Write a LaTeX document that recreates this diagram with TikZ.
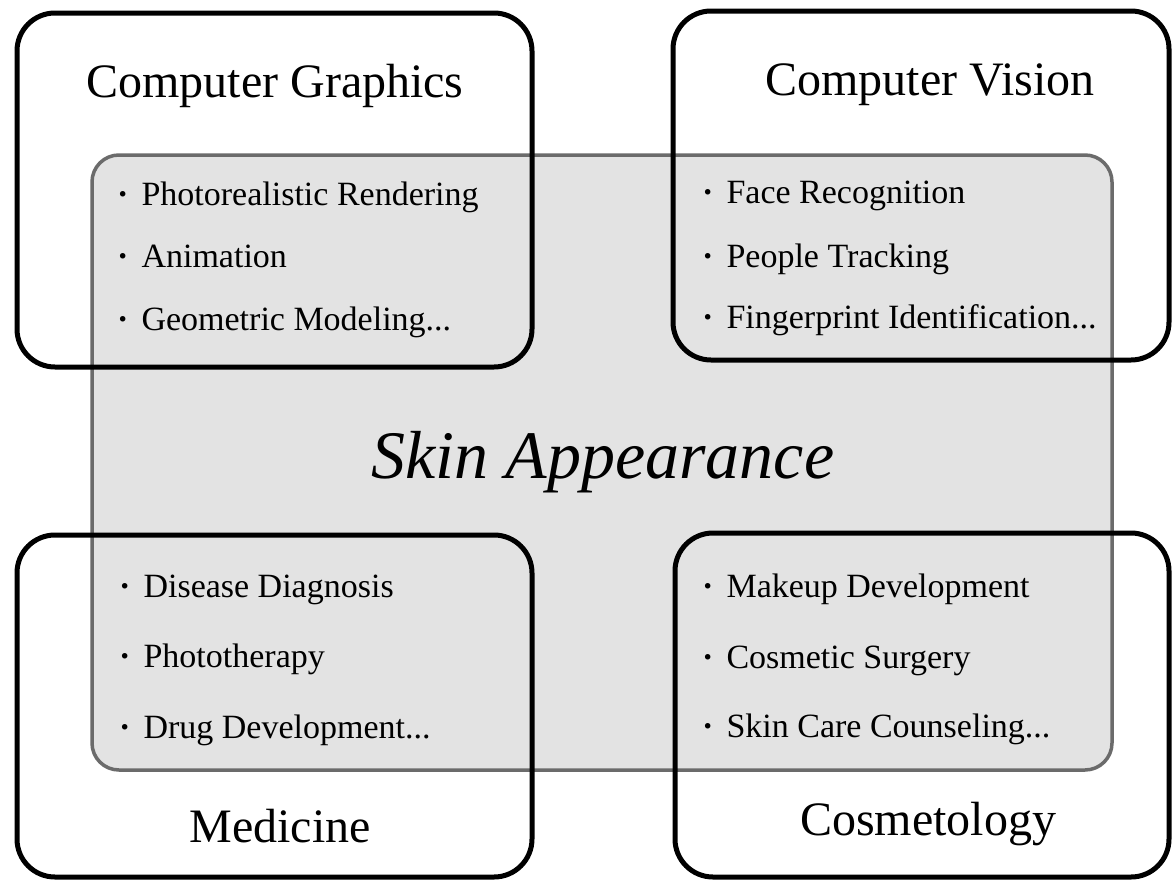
\documentclass[tikz,border=0pt]{standalone}
\usepackage{fontspec}
\setmainfont{Liberation Serif}
\newcommand{\itm}[1]{{\bfseries\textperiodcentered}\hspace{13pt}#1}
\begin{document}
\begin{tikzpicture}[x=1pt,y=-1pt,
  field/.style={draw=black,line width=5pt,rounded corners=38pt},
  core/.style={draw=black!58,fill=black!11,line width=3.5pt,rounded corners=27pt},
  head/.style={inner sep=0pt,anchor=base,font=\fontsize{48}{56}\selectfont},
  item/.style={inner sep=0pt,anchor=base west,font=\fontsize{34}{40}\selectfont},
  title/.style={inner sep=0pt,anchor=base,font=\fontsize{68}{80}\selectfont\itshape}]
\useasboundingbox (0,0) rectangle (1173,881);
\fill[white] (0,0) rectangle (1173,881);
% central grey region
\draw[core] (92,155) rectangle (1112,770);
% four field boxes
\draw[field] (17,13) rectangle (532,367);
\draw[field] (673,11) rectangle (1169,360);
\draw[field] (17,535) rectangle (532,877);
\draw[field] (675,533) rectangle (1169,877);
% headings
\node[head] (cg) at (275,97) {Computer Graphics};
\node[head] (cv) at (930,95) {Computer Vision};
\node[head] (med) at (280,842) {Medicine};
\node[head] (cos) at (928,835) {Cosmetology};
% centre title
\node[title] (skin) at (603,478) {Skin Appearance};
% items top-left
\node[item] (cg1) at (117,205) {\itm{Photorealistic Rendering}};
\node[item] (cg2) at (117,267) {\itm{Animation}};
\node[item] (cg3) at (117,330) {\itm{Geometric Modeling...}};
% items top-right
\node[item] (cv1) at (702,203) {\itm{Face Recognition}};
\node[item] (cv2) at (702,267) {\itm{People Tracking}};
\node[item] (cv3) at (702,328) {\itm{Fingerprint Identification...}};
% items bottom-left
\node[item] (md1) at (119,597) {\itm{Disease Diagnosis}};
\node[item] (md2) at (119,667) {\itm{Phototherapy}};
\node[item] (md3) at (119,738) {\itm{Drug Development...}};
% items bottom-right
\node[item] (cs1) at (702,597) {\itm{Makeup Development}};
\node[item] (cs2) at (702,668) {\itm{Cosmetic Surgery}};
\node[item] (cs3) at (702,737) {\itm{Skin Care Counseling...}};
\end{tikzpicture}
\end{document}
